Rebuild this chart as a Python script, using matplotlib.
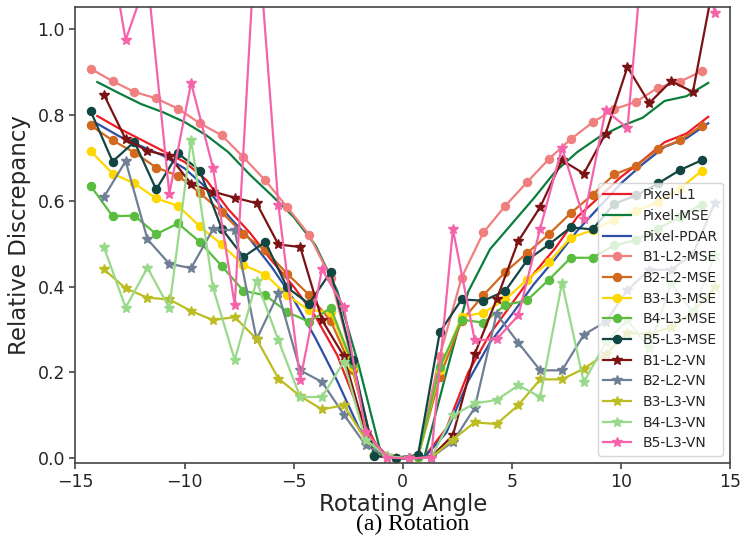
import numpy as np
import matplotlib
matplotlib.use("Agg")
import matplotlib.pyplot as plt

# Rotation angles (degrees) for each family of curves
x_pixel = np.arange(-14, 15, 1.0)
x_mse = np.arange(-14.3, 14.0, 1.0)
x_vn = np.arange(-13.7, 14.6, 1.0)

pixel_l1 = [0.797, 0.768, 0.742, 0.716, 0.69, 0.648, 0.58, 0.525, 0.46, 0.40, 0.33, 0.24, 0.11, 0.01, 0.0,
            0.004, 0.07, 0.20, 0.29, 0.36, 0.43, 0.49, 0.562, 0.608, 0.655, 0.694, 0.736, 0.756, 0.795]
pixel_mse = [0.876, 0.85, 0.825, 0.806, 0.783, 0.752, 0.713, 0.66, 0.612, 0.562, 0.496, 0.39, 0.213, 0.012, 0.0,
             0.005, 0.20, 0.388, 0.487, 0.546, 0.605, 0.668, 0.713, 0.748, 0.773, 0.793, 0.832, 0.843, 0.874]
pixel_pdar = [0.779, 0.75, 0.727, 0.705, 0.675, 0.63, 0.565, 0.51, 0.445, 0.37, 0.28, 0.18, 0.07, 0.01, 0.0,
              0.003, 0.06, 0.18, 0.27, 0.335, 0.405, 0.465, 0.53, 0.585, 0.64, 0.685, 0.725, 0.745, 0.78]

b1_l2_mse = [0.907, 0.878, 0.853, 0.838, 0.814, 0.780, 0.752, 0.701, 0.647, 0.585, 0.521, 0.42, 0.225, 0.008, 0.0,
             0.004, 0.239, 0.421, 0.526, 0.588, 0.643, 0.697, 0.743, 0.782, 0.813, 0.830, 0.863, 0.877, 0.901]
b2_l2_mse = [0.775, 0.74, 0.712, 0.677, 0.658, 0.618, 0.573, 0.522, 0.484, 0.43, 0.381, 0.32, 0.205, 0.008, 0.0,
             0.004, 0.19, 0.32, 0.38, 0.434, 0.478, 0.522, 0.571, 0.614, 0.661, 0.681, 0.72, 0.74, 0.774]
b3_l3_mse = [0.715, 0.663, 0.64, 0.605, 0.588, 0.54, 0.498, 0.45, 0.428, 0.38, 0.345, 0.341, 0.213, 0.008, 0.0,
             0.004, 0.206, 0.33, 0.339, 0.37, 0.416, 0.457, 0.514, 0.531, 0.556, 0.577, 0.596, 0.628, 0.669]
b4_l3_mse = [0.634, 0.564, 0.565, 0.522, 0.547, 0.504, 0.448, 0.39, 0.38, 0.341, 0.318, 0.35, 0.22, 0.008, 0.0,
             0.004, 0.213, 0.323, 0.316, 0.357, 0.368, 0.416, 0.467, 0.467, 0.496, 0.508, 0.535, 0.562, 0.591]
b5_l3_mse = [0.808, 0.691, 0.737, 0.626, 0.71, 0.67, 0.535, 0.469, 0.504, 0.398, 0.36, 0.434, 0.229, 0.005, 0.002,
             0.008, 0.294, 0.37, 0.367, 0.39, 0.461, 0.498, 0.538, 0.533, 0.593, 0.612, 0.64, 0.671, 0.694]

b1_l2_vn = [0.847, 0.743, 0.716, 0.704, 0.639, 0.621, 0.607, 0.594, 0.498, 0.492, 0.322, 0.238, 0.059, 0.005, 0.0,
            0.003, 0.054, 0.243, 0.37, 0.506, 0.585, 0.694, 0.663, 0.756, 0.911, 0.827, 0.878, 0.853, 1.12]
b2_l2_vn = [0.608, 0.692, 0.51, 0.453, 0.443, 0.533, 0.531, 0.277, 0.384, 0.205, 0.178, 0.102, 0.031, 0.003, 0.0,
            0.002, 0.039, 0.118, 0.336, 0.269, 0.205, 0.205, 0.288, 0.318, 0.392, 0.439, 0.439, 0.475, 0.595]
b3_l3_vn = [0.44, 0.396, 0.374, 0.37, 0.343, 0.322, 0.329, 0.278, 0.186, 0.145, 0.114, 0.124, 0.043, 0.005, 0.0,
            0.002, 0.044, 0.084, 0.08, 0.124, 0.184, 0.184, 0.209, 0.243, 0.292, 0.289, 0.306, 0.341, 0.398]
b4_l3_vn = [0.492, 0.351, 0.444, 0.35, 0.742, 0.398, 0.229, 0.413, 0.275, 0.143, 0.143, 0.225, 0.043, 0.005, 0.0,
            0.002, 0.1, 0.128, 0.136, 0.17, 0.143, 0.409, 0.177, 0.27, 0.322, 0.256, 0.407, 0.341, 0.474]
b5_l3_vn = [1.27, 0.974, 1.12, 0.616, 0.874, 0.677, 0.357, 1.26, 0.589, 0.182, 0.44, 0.353, 0.062, 0.002, 0.0,
            0.002, 0.533, 0.275, 0.277, 0.333, 0.535, 0.723, 0.558, 0.81, 0.769, 1.35, 1.4, 1.3, 1.037]

series = [
    ("Pixel-L1", x_pixel, pixel_l1, "#ee1c25", None),
    ("Pixel-MSE", x_pixel, pixel_mse, "#0b7d3c", None),
    ("Pixel-PDAR", x_pixel, pixel_pdar, "#2e4fa6", None),
    ("B1-L2-MSE", x_mse, b1_l2_mse, "#f08080", "o"),
    ("B2-L2-MSE", x_mse, b2_l2_mse, "#d2691e", "o"),
    ("B3-L3-MSE", x_mse, b3_l3_mse, "#ffd700", "o"),
    ("B4-L3-MSE", x_mse, b4_l3_mse, "#5bbd3f", "o"),
    ("B5-L3-MSE", x_mse, b5_l3_mse, "#124642", "o"),
    ("B1-L2-VN", x_vn, b1_l2_vn, "#7b1315", "*"),
    ("B2-L2-VN", x_vn, b2_l2_vn, "#6f7f96", "*"),
    ("B3-L3-VN", x_vn, b3_l3_vn, "#bcbd22", "*"),
    ("B4-L3-VN", x_vn, b4_l3_vn, "#98d98a", "*"),
    ("B5-L3-VN", x_vn, b5_l3_vn, "#f564a9", "*"),
]

fig = plt.figure(figsize=(7.43, 5.44), dpi=100)
ax = fig.add_axes([0.1016, 0.1494, 0.8809, 0.8372])

for label, xs, ys, color, marker in series:
    if marker is None:
        ax.plot(xs, ys, color=color, lw=1.6, label=label)
    elif marker == "o":
        ax.plot(xs, ys, color=color, lw=1.6, marker="o", markersize=5.8, label=label)
    else:
        ax.plot(xs, ys, color=color, lw=1.6, marker="*", markersize=7, label=label)

ax.set_xlim(-15, 15)
ax.set_ylim(-0.01, 1.05)
ax.set_xticks([-15, -10, -5, 0, 5, 10, 15])
ax.set_yticks([0.0, 0.2, 0.4, 0.6, 0.8, 1.0])

for sp in ax.spines.values():
    sp.set_color("#444444")
    sp.set_linewidth(1.2)
ax.tick_params(axis="both", colors="#444444", labelcolor="#262626", labelsize=12.5,
               length=4, width=1.2, direction="out")

ax.set_xlabel("Rotating Angle", fontsize=16.5, color="#262626", labelpad=1)
ax.set_ylabel("Relative Discrepancy", fontsize=16.5, color="#262626", labelpad=5)

leg = ax.legend(loc="lower right", fontsize=10, numpoints=1, handlelength=2.0,
                borderaxespad=0.5, labelspacing=0.48, framealpha=0.8)
for t in leg.get_texts():
    t.set_color("#262626")

fig.text(0.555, 0.036, "(a) Rotation", ha="center", va="center",
         fontsize=17, family="Liberation Serif")

fig.savefig("out.png", dpi=100)
